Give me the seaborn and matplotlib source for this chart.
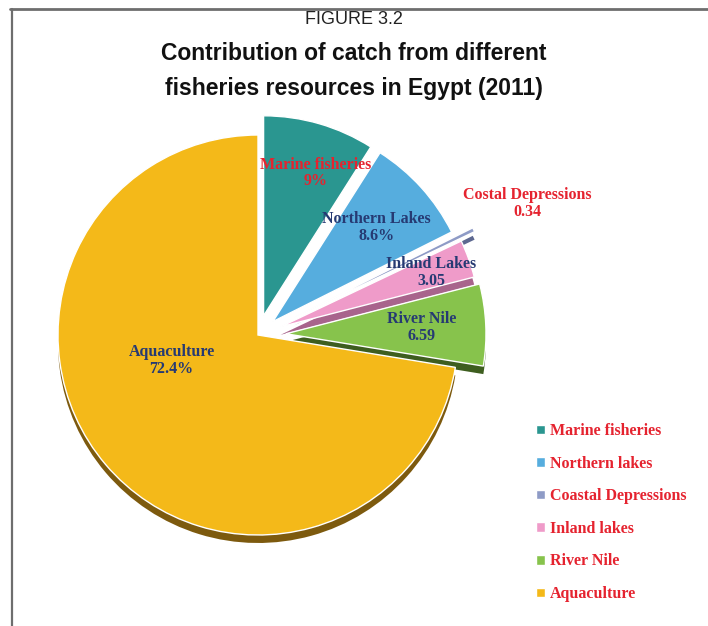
import numpy as np
import matplotlib
matplotlib.use("Agg")
import matplotlib.pyplot as plt
from matplotlib.lines import Line2D
from matplotlib.font_manager import FontProperties
import seaborn as sns

# Catch shares by fisheries resource, Egypt 2011
categories = ["Marine fisheries", "Northern Lakes", "Costal Depressions",
              "Inland Lakes", "River Nile", "Aquaculture"]
legend_labels = ["Marine fisheries", "Northern lakes", "Coastal Depressions",
                 "Inland lakes", "River Nile", "Aquaculture"]
shares = [9.0, 8.6, 0.34, 3.05, 6.59, 72.4]
value_text = ["9%", "8.6%", "0.34", "3.05", "6.59", "72.4%"]

sns.set_style("white")
face_colors = sns.color_palette(["#2A9690", "#56ADDE", "#8E9BC6",
                                 "#EF9BC9", "#87C34C", "#F4B919"])
side_colors = sns.color_palette(["#1C6461", "#35779C", "#5D6890",
                                 "#A8648C", "#3E5E1F", "#7D5A0E"])
show_side = [False, False, True, True, True, True]
explode = [0.1, 0.1, 0.2, 0.12, 0.14, 0.0]   # as a fraction of the radius

W, H = 708, 626
fig = plt.figure(figsize=(W / 100, H / 100), dpi=100)
ax = fig.add_axes([0, 0, 1, 1])

cx, cy, R = 258, H - 335, 200
depth = 8
offsets = [e * R for e in explode]

# darker copy underneath gives the slices a visible thickness
side_wedges, _ = ax.pie(shares, colors=side_colors, explode=offsets,
                        startangle=90, counterclock=False,
                        center=(cx, cy - depth), radius=R,
                        wedgeprops=dict(linewidth=0))
for sw, show in zip(side_wedges, show_side):
    sw.set_visible(show)

wedges, _ = ax.pie(shares, colors=face_colors, explode=offsets, startangle=90,
                   counterclock=False, center=(cx, cy), radius=R,
                   wedgeprops=dict(edgecolor="white", linewidth=1))

ax.set_xlim(0, W)
ax.set_ylim(0, H)
ax.set_aspect("equal")
ax.axis("off")

serif_bold = dict(family="Liberation Serif", weight="bold", size=11.5)
label_colors = ["#E5232F", "#263A73", "#E5232F", "#263A73", "#263A73", "#263A73"]
label_radius = [0.76, 0.7, 1.3, 0.8, 0.68, 0.45]
label_turn = [-4, 0, 0, 0, 0, -24]
for w, name, val, col, rf, dt in zip(wedges, categories, value_text,
                                      label_colors, label_radius, label_turn):
    mid = np.deg2rad((w.theta1 + w.theta2) / 2 + dt)
    x = w.center[0] + rf * w.r * np.cos(mid)
    y = w.center[1] + rf * w.r * np.sin(mid)
    ax.text(x, y, f"{name}\n{val}", ha="center", va="center", color=col,
            fontproperties=FontProperties(**serif_bold), linespacing=1.05)

ax.legend(wedges, legend_labels, loc="upper left",
          bbox_to_anchor=(528 / W, 1 - 415 / H), bbox_transform=fig.transFigure,
          frameon=False, prop=FontProperties(**serif_bold), labelcolor="#E5232F",
          handlelength=0.55, handleheight=0.55, handletextpad=0.3,
          labelspacing=1.04, borderpad=0)

title_family = ["Liberation Sans", "DejaVu Sans"]
fig.text(354 / W, 1 - 20 / H, "FIGURE 3.2", ha="center", va="center",
         family=title_family, size=13, color="#222222")
fig.text(354 / W, 1 - 54 / H, "Contribution of catch from different",
         ha="center", va="center", family=title_family, weight="bold",
         size=16.5, color="#111111")
fig.text(354 / W, 1 - 88 / H, "fisheries resources in Egypt (2011)",
         ha="center", va="center", family=title_family, weight="bold",
         size=16.5, color="#111111")

# frame lines at top and left
fig.add_artist(Line2D([10 / W, 1], [1 - 9 / H, 1 - 9 / H], color="#6E6E6E",
                      lw=2, transform=fig.transFigure))
fig.add_artist(Line2D([12 / W, 12 / W], [1 - 9 / H, 0], color="#6E6E6E",
                      lw=1.6, transform=fig.transFigure))

fig.savefig("out.png", dpi=100, facecolor="white")
